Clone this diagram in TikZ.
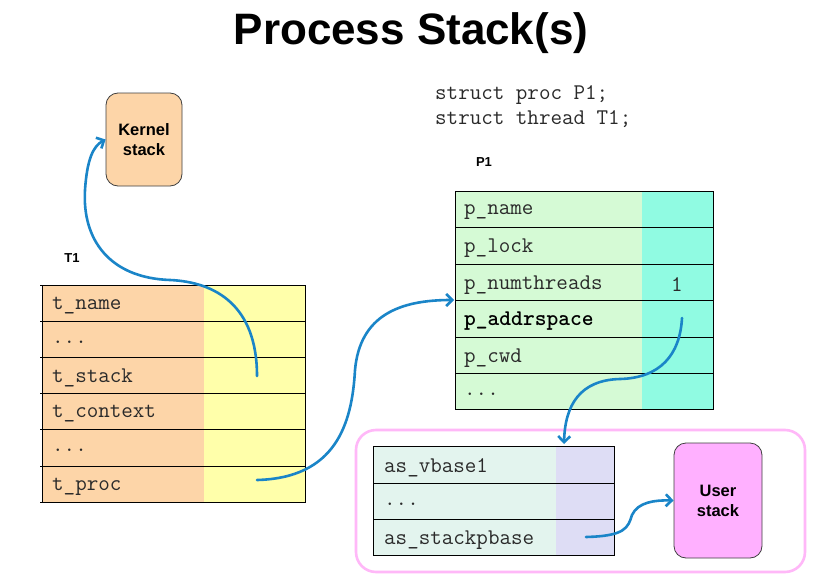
\documentclass[tikz,border=0pt]{standalone}
\usepackage{fontspec}
\setmainfont{Liberation Sans}
\usetikzlibrary{arrows.meta}
\definecolor{peach}{HTML}{FDD5A8}
\definecolor{yellowc}{HTML}{FFFFAA}
\definecolor{greenc}{HTML}{D5FAD5}
\definecolor{cyanc}{HTML}{90FBE2}
\definecolor{mintc}{HTML}{E3F4EE}
\definecolor{lavc}{HTML}{DEDDF5}
\definecolor{pinkc}{HTML}{FFB0FF}
\definecolor{framec}{HTML}{FFB8F8}
\definecolor{arrowblue}{HTML}{1A85C8}
\definecolor{codec}{HTML}{2A2A2A}
\tikzset{
  code/.style={font=\ttfamily\fontsize{22.4}{22}\selectfont, anchor=west, text=codec, inner sep=0pt, yshift=-2pt},
  lbl/.style={font=\bfseries\fontsize{16.5}{20}\selectfont, align=center, text=black},
  small/.style={font=\bfseries\fontsize{13}{14}\selectfont, text=black, inner sep=0pt},
  stackbox/.style={draw=black!75, line width=0.8pt, rounded corners=12pt},
  arr/.style={draw=arrowblue, line width=2.6pt, line cap=round, -{Straight Barb[length=6pt,width=12pt]}},
  gridl/.style={draw=black, line width=0.9pt}
}
\begin{document}
\begin{tikzpicture}[x=1pt,y=-1pt]
\useasboundingbox (0,0) rectangle (815,581);
\fill[white] (0,0) rectangle (815,581);

% title
\node[font=\bfseries\fontsize{44}{48}\selectfont] (title) at (411,33) {Process Stack(s)};

% code text
\node[code] (s1) at (435,93) {struct proc P1;};
\node[code] (s2) at (435,117) {struct thread T1;};

% Kernel stack
\node[stackbox, fill=peach, minimum width=76pt, minimum height=93pt, lbl] (kernel) at (144,139.5) {Kernel\\stack};

% T1 table
\node[small] (t1lbl) at (72,258) {T1};
\fill[peach] (42,285) rectangle (204,502);
\fill[yellowc] (204,285) rectangle (305,502);
\foreach \y in {285,321,357,393,429,466,502} \draw[gridl] (40,\y) -- (306,\y);
\draw[gridl] (42,285) -- (42,503) (305,285) -- (305,503);
\node[code] (tname) at (52,304) {t\_name};
\node[code] (tdots1) at (52,340) {...};
\node[code] (tstack) at (52,376) {t\_stack};
\node[code] (tcontext) at (52,412) {t\_context};
\node[code] (tdots2) at (52,448.5) {...};
\node[code] (tproc) at (52,485) {t\_proc};
\coordinate (tstackptr) at (257,376);
\coordinate (tprocptr) at (257,480);

% P1 table
\node[small] (p1lbl) at (484,162) {P1};
\fill[greenc] (455,191) rectangle (642,409);
\fill[cyanc] (642,191) rectangle (713,409);
\foreach \y in {191,227,264,300,337,373,409} \draw[gridl] (455,\y) -- (714,\y);
\draw[gridl] (455,191) -- (455,409) (713,191) -- (713,409);
\node[code] (pname) at (464,210) {p\_name};
\node[code] (plock) at (464,246.5) {p\_lock};
\node[code] (pnum) at (464,283) {p\_numthreads};
\node[code] (pnumval) at (671,283) {1};
\node[code, font=\ttfamily\bfseries\fontsize{22.4}{22}\selectfont, text=black] (paddr) at (464,319.5) {p\_addrspace};
\node[code] (pcwd) at (464,356) {p\_cwd};
\node[code] (pdots) at (464,392) {...};
\coordinate (p1entry) at (454,300);
\coordinate (paddrptr) at (682,318);

% address space frame
\draw[framec, line width=2.6pt, rounded corners=20pt] (356,430) rectangle (805,572);
\fill[mintc] (373,446) rectangle (556,555);
\fill[lavc] (556,446) rectangle (614,555);
\foreach \y in {446,483,519,555} \draw[gridl] (373,\y) -- (614,\y);
\draw[gridl] (373,446) -- (373,556) (614,446) -- (614,556);
\node[code] (asv) at (384,465.5) {as\_vbase1};
\node[code] (asdots) at (384,502) {...};
\node[code] (asstack) at (384,538) {as\_stackpbase};
\coordinate (astop) at (564,444);
\coordinate (asstackptr) at (586,537);

% user stack
\node[stackbox, fill=pinkc, minimum width=88pt, minimum height=115pt, lbl] (user) at (718,500.5) {User\\stack};

% arrows
\draw[arr] (tstackptr) .. controls (257,305) and (215,282) .. (170,280)
  .. controls (110,278) and (82,240) .. (85,190)
  .. controls (87,160) and (93,146) .. (kernel.west);
\draw[arr] (tprocptr) .. controls (335,478) and (352,425) .. (355,370)
  .. controls (360,315) and (400,300) .. (p1entry);
\draw[arr] (paddrptr) .. controls (680,355) and (660,378) .. (620,379)
  .. controls (580,380) and (565,405) .. (astop);
\draw[arr] (asstackptr) .. controls (625,536) and (628,528) .. (632,515)
  .. controls (638,502) and (655,500) .. (user.west);
\end{tikzpicture}
\end{document}
